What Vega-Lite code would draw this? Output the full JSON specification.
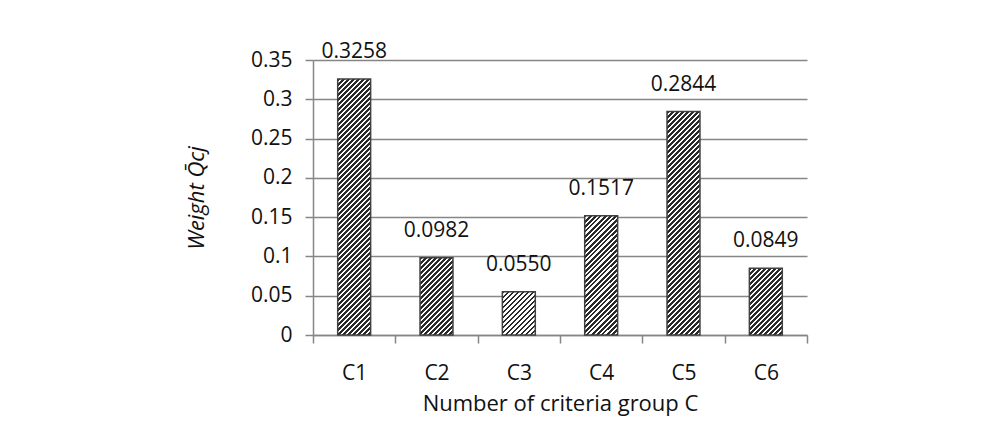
{
  "$schema": "https://vega.github.io/schema/vega-lite/v6.json",
  "width": 494,
  "height": 275,
  "autosize": {"type": "none"},
  "padding": {"left": 313, "top": 60, "right": 180, "bottom": 89},
  "background": "white",
  "params": [
    {
      "name": "hatch",
      "value": [
        {"offset":0,"color":"#2a2a2a"},{"offset":0.0083,"color":"#2a2a2a"},{"offset":0.0083,"color":"#fff"},{"offset":0.0167,"color":"#fff"},
        {"offset":0.0167,"color":"#2a2a2a"},{"offset":0.025,"color":"#2a2a2a"},{"offset":0.025,"color":"#fff"},{"offset":0.0333,"color":"#fff"},
        {"offset":0.0333,"color":"#2a2a2a"},{"offset":0.0417,"color":"#2a2a2a"},{"offset":0.0417,"color":"#fff"},{"offset":0.05,"color":"#fff"},
        {"offset":0.05,"color":"#2a2a2a"},{"offset":0.0583,"color":"#2a2a2a"},{"offset":0.0583,"color":"#fff"},{"offset":0.0667,"color":"#fff"},
        {"offset":0.0667,"color":"#2a2a2a"},{"offset":0.075,"color":"#2a2a2a"},{"offset":0.075,"color":"#fff"},{"offset":0.0833,"color":"#fff"},
        {"offset":0.0833,"color":"#2a2a2a"},{"offset":0.0917,"color":"#2a2a2a"},{"offset":0.0917,"color":"#fff"},{"offset":0.1,"color":"#fff"},
        {"offset":0.1,"color":"#2a2a2a"},{"offset":0.1083,"color":"#2a2a2a"},{"offset":0.1083,"color":"#fff"},{"offset":0.1167,"color":"#fff"},
        {"offset":0.1167,"color":"#2a2a2a"},{"offset":0.125,"color":"#2a2a2a"},{"offset":0.125,"color":"#fff"},{"offset":0.1333,"color":"#fff"},
        {"offset":0.1333,"color":"#2a2a2a"},{"offset":0.1417,"color":"#2a2a2a"},{"offset":0.1417,"color":"#fff"},{"offset":0.15,"color":"#fff"},
        {"offset":0.15,"color":"#2a2a2a"},{"offset":0.1583,"color":"#2a2a2a"},{"offset":0.1583,"color":"#fff"},{"offset":0.1667,"color":"#fff"},
        {"offset":0.1667,"color":"#2a2a2a"},{"offset":0.175,"color":"#2a2a2a"},{"offset":0.175,"color":"#fff"},{"offset":0.1833,"color":"#fff"},
        {"offset":0.1833,"color":"#2a2a2a"},{"offset":0.1917,"color":"#2a2a2a"},{"offset":0.1917,"color":"#fff"},{"offset":0.2,"color":"#fff"},
        {"offset":0.2,"color":"#2a2a2a"},{"offset":0.2083,"color":"#2a2a2a"},{"offset":0.2083,"color":"#fff"},{"offset":0.2167,"color":"#fff"},
        {"offset":0.2167,"color":"#2a2a2a"},{"offset":0.225,"color":"#2a2a2a"},{"offset":0.225,"color":"#fff"},{"offset":0.2333,"color":"#fff"},
        {"offset":0.2333,"color":"#2a2a2a"},{"offset":0.2417,"color":"#2a2a2a"},{"offset":0.2417,"color":"#fff"},{"offset":0.25,"color":"#fff"},
        {"offset":0.25,"color":"#2a2a2a"},{"offset":0.2583,"color":"#2a2a2a"},{"offset":0.2583,"color":"#fff"},{"offset":0.2667,"color":"#fff"},
        {"offset":0.2667,"color":"#2a2a2a"},{"offset":0.275,"color":"#2a2a2a"},{"offset":0.275,"color":"#fff"},{"offset":0.2833,"color":"#fff"},
        {"offset":0.2833,"color":"#2a2a2a"},{"offset":0.2917,"color":"#2a2a2a"},{"offset":0.2917,"color":"#fff"},{"offset":0.3,"color":"#fff"},
        {"offset":0.3,"color":"#2a2a2a"},{"offset":0.3083,"color":"#2a2a2a"},{"offset":0.3083,"color":"#fff"},{"offset":0.3167,"color":"#fff"},
        {"offset":0.3167,"color":"#2a2a2a"},{"offset":0.325,"color":"#2a2a2a"},{"offset":0.325,"color":"#fff"},{"offset":0.3333,"color":"#fff"},
        {"offset":0.3333,"color":"#2a2a2a"},{"offset":0.3417,"color":"#2a2a2a"},{"offset":0.3417,"color":"#fff"},{"offset":0.35,"color":"#fff"},
        {"offset":0.35,"color":"#2a2a2a"},{"offset":0.3583,"color":"#2a2a2a"},{"offset":0.3583,"color":"#fff"},{"offset":0.3667,"color":"#fff"},
        {"offset":0.3667,"color":"#2a2a2a"},{"offset":0.375,"color":"#2a2a2a"},{"offset":0.375,"color":"#fff"},{"offset":0.3833,"color":"#fff"},
        {"offset":0.3833,"color":"#2a2a2a"},{"offset":0.3917,"color":"#2a2a2a"},{"offset":0.3917,"color":"#fff"},{"offset":0.4,"color":"#fff"},
        {"offset":0.4,"color":"#2a2a2a"},{"offset":0.4083,"color":"#2a2a2a"},{"offset":0.4083,"color":"#fff"},{"offset":0.4167,"color":"#fff"},
        {"offset":0.4167,"color":"#2a2a2a"},{"offset":0.425,"color":"#2a2a2a"},{"offset":0.425,"color":"#fff"},{"offset":0.4333,"color":"#fff"},
        {"offset":0.4333,"color":"#2a2a2a"},{"offset":0.4417,"color":"#2a2a2a"},{"offset":0.4417,"color":"#fff"},{"offset":0.45,"color":"#fff"},
        {"offset":0.45,"color":"#2a2a2a"},{"offset":0.4583,"color":"#2a2a2a"},{"offset":0.4583,"color":"#fff"},{"offset":0.4667,"color":"#fff"},
        {"offset":0.4667,"color":"#2a2a2a"},{"offset":0.475,"color":"#2a2a2a"},{"offset":0.475,"color":"#fff"},{"offset":0.4833,"color":"#fff"},
        {"offset":0.4833,"color":"#2a2a2a"},{"offset":0.4917,"color":"#2a2a2a"},{"offset":0.4917,"color":"#fff"},{"offset":0.5,"color":"#fff"},
        {"offset":0.5,"color":"#2a2a2a"},{"offset":0.5083,"color":"#2a2a2a"},{"offset":0.5083,"color":"#fff"},{"offset":0.5167,"color":"#fff"},
        {"offset":0.5167,"color":"#2a2a2a"},{"offset":0.525,"color":"#2a2a2a"},{"offset":0.525,"color":"#fff"},{"offset":0.5333,"color":"#fff"},
        {"offset":0.5333,"color":"#2a2a2a"},{"offset":0.5417,"color":"#2a2a2a"},{"offset":0.5417,"color":"#fff"},{"offset":0.55,"color":"#fff"},
        {"offset":0.55,"color":"#2a2a2a"},{"offset":0.5583,"color":"#2a2a2a"},{"offset":0.5583,"color":"#fff"},{"offset":0.5667,"color":"#fff"},
        {"offset":0.5667,"color":"#2a2a2a"},{"offset":0.575,"color":"#2a2a2a"},{"offset":0.575,"color":"#fff"},{"offset":0.5833,"color":"#fff"},
        {"offset":0.5833,"color":"#2a2a2a"},{"offset":0.5917,"color":"#2a2a2a"},{"offset":0.5917,"color":"#fff"},{"offset":0.6,"color":"#fff"},
        {"offset":0.6,"color":"#2a2a2a"},{"offset":0.6083,"color":"#2a2a2a"},{"offset":0.6083,"color":"#fff"},{"offset":0.6167,"color":"#fff"},
        {"offset":0.6167,"color":"#2a2a2a"},{"offset":0.625,"color":"#2a2a2a"},{"offset":0.625,"color":"#fff"},{"offset":0.6333,"color":"#fff"},
        {"offset":0.6333,"color":"#2a2a2a"},{"offset":0.6417,"color":"#2a2a2a"},{"offset":0.6417,"color":"#fff"},{"offset":0.65,"color":"#fff"},
        {"offset":0.65,"color":"#2a2a2a"},{"offset":0.6583,"color":"#2a2a2a"},{"offset":0.6583,"color":"#fff"},{"offset":0.6667,"color":"#fff"},
        {"offset":0.6667,"color":"#2a2a2a"},{"offset":0.675,"color":"#2a2a2a"},{"offset":0.675,"color":"#fff"},{"offset":0.6833,"color":"#fff"},
        {"offset":0.6833,"color":"#2a2a2a"},{"offset":0.6917,"color":"#2a2a2a"},{"offset":0.6917,"color":"#fff"},{"offset":0.7,"color":"#fff"},
        {"offset":0.7,"color":"#2a2a2a"},{"offset":0.7083,"color":"#2a2a2a"},{"offset":0.7083,"color":"#fff"},{"offset":0.7167,"color":"#fff"},
        {"offset":0.7167,"color":"#2a2a2a"},{"offset":0.725,"color":"#2a2a2a"},{"offset":0.725,"color":"#fff"},{"offset":0.7333,"color":"#fff"},
        {"offset":0.7333,"color":"#2a2a2a"},{"offset":0.7417,"color":"#2a2a2a"},{"offset":0.7417,"color":"#fff"},{"offset":0.75,"color":"#fff"},
        {"offset":0.75,"color":"#2a2a2a"},{"offset":0.7583,"color":"#2a2a2a"},{"offset":0.7583,"color":"#fff"},{"offset":0.7667,"color":"#fff"},
        {"offset":0.7667,"color":"#2a2a2a"},{"offset":0.775,"color":"#2a2a2a"},{"offset":0.775,"color":"#fff"},{"offset":0.7833,"color":"#fff"},
        {"offset":0.7833,"color":"#2a2a2a"},{"offset":0.7917,"color":"#2a2a2a"},{"offset":0.7917,"color":"#fff"},{"offset":0.8,"color":"#fff"},
        {"offset":0.8,"color":"#2a2a2a"},{"offset":0.8083,"color":"#2a2a2a"},{"offset":0.8083,"color":"#fff"},{"offset":0.8167,"color":"#fff"},
        {"offset":0.8167,"color":"#2a2a2a"},{"offset":0.825,"color":"#2a2a2a"},{"offset":0.825,"color":"#fff"},{"offset":0.8333,"color":"#fff"},
        {"offset":0.8333,"color":"#2a2a2a"},{"offset":0.8417,"color":"#2a2a2a"},{"offset":0.8417,"color":"#fff"},{"offset":0.85,"color":"#fff"},
        {"offset":0.85,"color":"#2a2a2a"},{"offset":0.8583,"color":"#2a2a2a"},{"offset":0.8583,"color":"#fff"},{"offset":0.8667,"color":"#fff"},
        {"offset":0.8667,"color":"#2a2a2a"},{"offset":0.875,"color":"#2a2a2a"},{"offset":0.875,"color":"#fff"},{"offset":0.8833,"color":"#fff"},
        {"offset":0.8833,"color":"#2a2a2a"},{"offset":0.8917,"color":"#2a2a2a"},{"offset":0.8917,"color":"#fff"},{"offset":0.9,"color":"#fff"},
        {"offset":0.9,"color":"#2a2a2a"},{"offset":0.9083,"color":"#2a2a2a"},{"offset":0.9083,"color":"#fff"},{"offset":0.9167,"color":"#fff"},
        {"offset":0.9167,"color":"#2a2a2a"},{"offset":0.925,"color":"#2a2a2a"},{"offset":0.925,"color":"#fff"},{"offset":0.9333,"color":"#fff"},
        {"offset":0.9333,"color":"#2a2a2a"},{"offset":0.9417,"color":"#2a2a2a"},{"offset":0.9417,"color":"#fff"},{"offset":0.95,"color":"#fff"},
        {"offset":0.95,"color":"#2a2a2a"},{"offset":0.9583,"color":"#2a2a2a"},{"offset":0.9583,"color":"#fff"},{"offset":0.9667,"color":"#fff"},
        {"offset":0.9667,"color":"#2a2a2a"},{"offset":0.975,"color":"#2a2a2a"},{"offset":0.975,"color":"#fff"},{"offset":0.9833,"color":"#fff"},
        {"offset":0.9833,"color":"#2a2a2a"},{"offset":0.9917,"color":"#2a2a2a"},{"offset":0.9917,"color":"#fff"},{"offset":1,"color":"#fff"}
      ]
    }
  ],
  "data": {
    "values": [
      {"group": "C1", "weight": 0.3258},
      {"group": "C2", "weight": 0.0982},
      {"group": "C3", "weight": 0.0550},
      {"group": "C4", "weight": 0.1517},
      {"group": "C5", "weight": 0.2844},
      {"group": "C6", "weight": 0.0849}
    ]
  },
  "encoding": {
    "x": {
      "field": "group",
      "type": "nominal",
      "sort": null,
      "scale": {"paddingInner": 0, "paddingOuter": 0},
      "axis": {
        "title": "Number of criteria group C",
        "titleFont": "Open Sans",
        "titleFontSize": 22,
        "titleFontWeight": "normal",
        "titleColor": "#111",
        "titleY": 68,
        "titleBaseline": "middle",
        "labelFont": "Open Sans",
        "labelFontSize": 21,
        "labelColor": "#111",
        "labelAngle": 0,
        "labelBaseline": "middle",
        "labelPadding": 30,
        "tickSize": 8,
        "tickWidth": 1.5,
        "tickColor": "#868686",
        "tickBand": "extent",
        "domainColor": "#868686",
        "domainWidth": 1.5,
        "grid": false
      }
    },
    "y": {
      "field": "weight",
      "type": "quantitative",
      "scale": {"domain": [0, 0.35], "nice": false, "zero": true},
      "axis": {
        "title": "Weight Q̄cj",
        "titleFont": "Open Sans",
        "titleFontSize": 22,
        "titleFontWeight": "normal",
        "titleFontStyle": "italic",
        "titleColor": "#111",
        "titleX": -117,
        "titleY": 137.5,
        "titleAngle": 270,
        "titleAlign": "center",
        "titleBaseline": "middle",
        "values": [0, 0.05, 0.1, 0.15, 0.2, 0.25, 0.3, 0.35],
        "format": "~g",
        "labelFont": "Open Sans",
        "labelFontSize": 21,
        "labelColor": "#111",
        "labelPadding": 13,
        "tickSize": 8,
        "tickWidth": 1.5,
        "tickColor": "#868686",
        "domainColor": "#868686",
        "domainWidth": 1.5,
        "grid": true,
        "gridColor": "#868686",
        "gridWidth": 1.5
      }
    }
  },
  "layer": [
    {
      "mark": {
        "type": "bar",
        "width": {"band": 0.4},
        "fill": {"expr": "{gradient: 'linear', x1: 0, y1: 0, x2: 300*32.93/(1084.4 + pow(datum.weight*785.71, 2)), y2: 300*datum.weight*785.71/(1084.4 + pow(datum.weight*785.71, 2)), stops: hatch}"},
        "stroke": "#404040",
        "strokeWidth": 1.5
      }
    },
    {
      "mark": {
        "type": "text",
        "dy": -27,
        "baseline": "middle",
        "font": "Open Sans",
        "fontSize": 21,
        "color": "#111"
      },
      "encoding": {
        "text": {"field": "weight", "type": "quantitative", "format": ".4f"}
      }
    }
  ],
  "config": {
    "view": {"stroke": null},
    "font": "Open Sans"
  }
}
